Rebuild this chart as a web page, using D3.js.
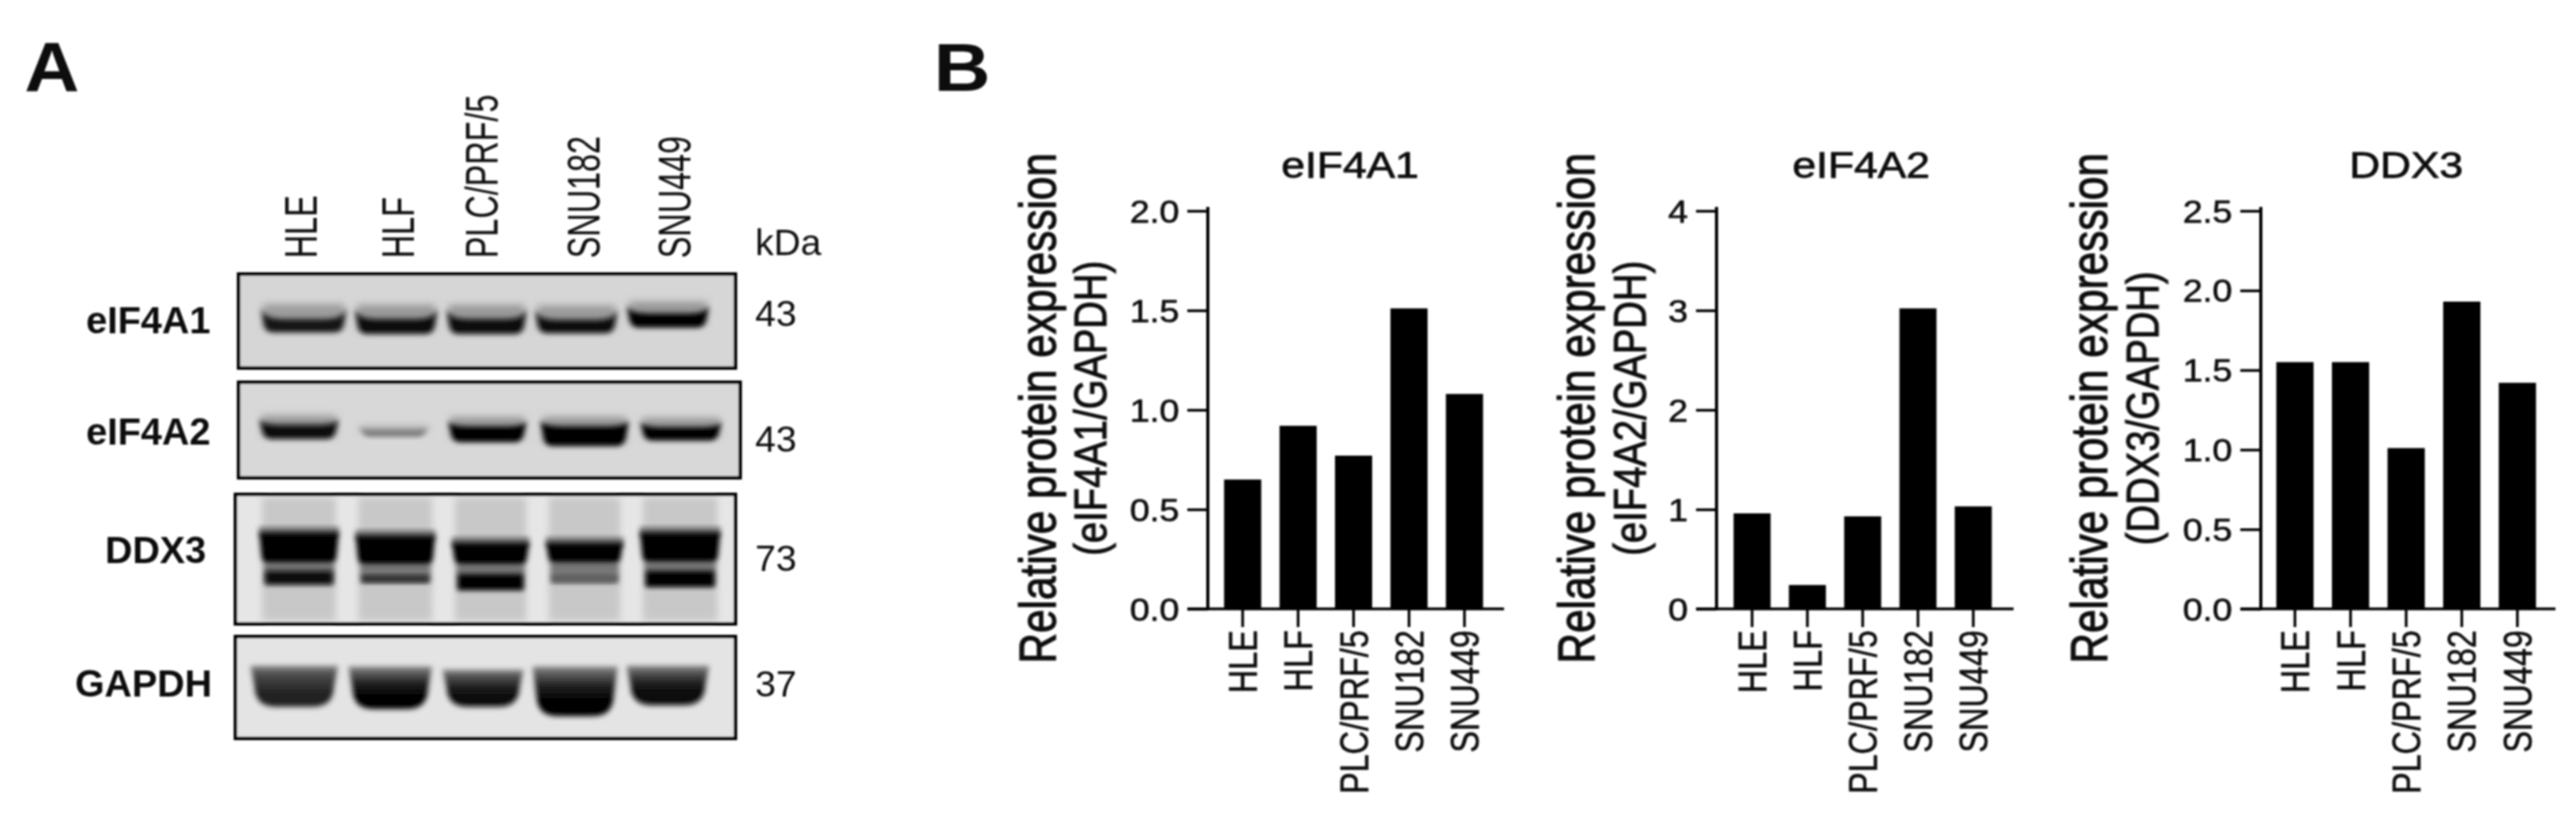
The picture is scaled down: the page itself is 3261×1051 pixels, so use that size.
<!DOCTYPE html>
<html><head><meta charset="utf-8">
<script src="https://d3js.org/d3.v7.min.js"></script>
<style>html,body{margin:0;padding:0;background:#fff}svg{display:block}text{font-family:"Liberation Sans",Arial,sans-serif;fill:#0c0c0c}</style>
</head><body><svg id="c" width="3261" height="1051"></svg>
<script>
// ---------- data ----------
const cellLines = ["HLE","HLF","PLC/PRF/5","SNU182","SNU449"];
const eIF4A1Values = [0.65,0.92,0.77,1.51,1.08];
const eIF4A2Values = [0.96,0.24,0.93,3.02,1.03];
const DDX3Values   = [1.55,1.55,1.01,1.93,1.42];
const eIF4A1Ticks = [0,0.5,1,1.5,2];
const eIF4A2Ticks = [0,1,2,3,4];
const DDX3Ticks   = [0,0.5,1,1.5,2,2.5];
const blotNames = ["eIF4A1","eIF4A2","DDX3","GAPDH"];
const blotKDa   = ["43","43","73","37"];
// band darkness per lane (0 = background, 1 = black)
const eIF4A1Bands = [0.88,0.95,0.95,0.93,0.97];
const eIF4A2Bands = [0.95,0.42,0.97,1,0.97];
const DDX3UpperBands = [1,1,1,1,1];
const DDX3LowerBands = [0.95,0.78,1,0.55,1];
const GAPDHBands = [0.85,1,0.95,1,0.97];

// ---------- layout ----------
const svg = d3.select("#c");
const defs = svg.append("defs");
defs.append("filter").attr("id","soft").attr("x","-5%").attr("y","-5%").attr("width","110%").attr("height","110%")
  .append("feGaussianBlur").attr("stdDeviation",0.9);
defs.append("filter").attr("id","band").attr("x","-10%").attr("y","-30%").attr("width","120%").attr("height","160%")
  .append("feGaussianBlur").attr("stdDeviation",3);
defs.append("filter").attr("id","haze").attr("x","-10%").attr("y","-60%").attr("width","120%").attr("height","220%")
  .append("feGaussianBlur").attr("stdDeviation",5);
defs.append("filter").attr("id","streak").attr("x","-30%").attr("y","-5%").attr("width","160%").attr("height","110%")
  .append("feGaussianBlur").attr("stdDeviation",4);
const root = svg.append("g").attr("filter","url(#soft)");
const grey = d3.scaleLinear().domain([0,1]).range(["#cfcfcf","#000000"]);

function txt(g,s,x,y,size,opt={}){
  const sx=opt.sx||1, rot=opt.rot?" rotate(-90)":"";
  return g.append("text").text(s).attr("font-size",size)
    .attr("transform",`translate(${x},${y}) scale(${sx},1)${rot}`)
    .attr("text-anchor",opt.anchor||"start")
    .attr("font-weight",opt.bold?"bold":"normal")
    .attr("stroke",opt.stroke?"#0c0c0c":"none").attr("stroke-width",opt.stroke||0);
}

txt(root,"A",31,116,89,{bold:true,sx:1.08});
txt(root,"B",1182,115,85,{bold:true,sx:1.17});

// ---------- panel A ----------
const A = root.append("g");
const topLabelBase = [401,524,630,759,874];
cellLines.forEach((c,i)=>txt(A,c,topLabelBase[i],327,41,{rot:true,sx:1.38}));
txt(A,"kDa",956,323,47,{});

const lanes = {
  eIF4A1:[[330,439],[449,554],[565,667],[677,782],[793,898]],
  eIF4A2:[[328,429],[453,544],[567,667],[684,796],[810,914]],
  DDX3:[[328,429],[450,551],[572,670],[691,789],[810,912]],
  GAPDH:[[317,428],[441,547],[560,663],[674,782],[793,898]]
};
const gels = [
 {name:"eIF4A1",x0:300,x1:933,y0:345,y1:468,bg:"#d6d6d6",lab:[109,422],kda:413},
 {name:"eIF4A2",x0:300,x1:939,y0:482,y1:607,bg:"#d8d8d8",lab:[109,563],kda:572},
 {name:"DDX3",x0:296,x1:933,y0:624,y1:792,bg:"#e6e6e6",lab:[133,713],kda:723},
 {name:"GAPDH",x0:296,x1:933,y0:804,y1:937,bg:"#e4e4e4",lab:[95,882],kda:882}
];
function crescent(g,x0,x1,top,sag,bottom,fill,rr,inset){
  const p=d3.path(), w=x1-x0, r=rr||Math.min(14,w*0.12), n=inset||0;
  p.moveTo(x0,top);
  p.bezierCurveTo(x0+w*0.05,top+sag*0.9,x0+w*0.15,top+sag,x0+w*0.3,top+sag);
  p.lineTo(x1-w*0.3,top+sag);
  p.bezierCurveTo(x1-w*0.15,top+sag,x1-w*0.05,top+sag*0.9,x1,top);
  p.lineTo(x1-n,bottom-r);
  p.quadraticCurveTo(x1-n-1,bottom,x1-n-r,bottom);
  p.lineTo(x0+n+r,bottom);
  p.quadraticCurveTo(x0+n+1,bottom,x0+n,bottom-r);
  p.closePath();
  g.append("path").attr("d",p.toString()).attr("fill",fill).attr("filter","url(#band)");
}
function vGrad(id,stops){
  const lg=defs.append("linearGradient").attr("id",id).attr("x1",0).attr("x2",0).attr("y1",0).attr("y2",1);
  stops.forEach(s=>lg.append("stop").attr("offset",s[0]).attr("stop-color",s[1]));
  return `url(#${id})`;
}
const bandSpecs = {
 eIF4A1:{top:[390,391,391,392,387],sag:[14,13,13,13,10],bot:[421,423,423,422,415]},
 eIF4A2:{top:[531,543,533,533,534],sag:[7,1,7,7,7],bot:[556,553,560,565,558]},
 GAPDH:{top:[843,844,848,844,843],sag:[0,0,0,0,0],bot:[895,898,895,907,893]}
};
gels.forEach((gel,gi)=>{
  const g=A.append("g");
  g.append("rect").attr("x",gel.x0).attr("y",gel.y0).attr("width",gel.x1-gel.x0).attr("height",gel.y1-gel.y0).attr("fill",gel.bg);
  const L=lanes[gel.name];
  if(gel.name!=="DDX3"){
    const vals = gel.name==="eIF4A1"?eIF4A1Bands:gel.name==="eIF4A2"?eIF4A2Bands:GAPDHBands;
    const sp=bandSpecs[gel.name];
    L.forEach((l,i)=>{
      const t=sp.top[i],b=sp.bot[i],v=vals[i];
      if(gel.name==="GAPDH"){
        const f=vGrad(`gp${i}`,[[0,grey(0.35)],[0.18,grey(0.6)],[0.4,grey(v*0.85)],[0.65,grey(v*0.97)],[1,grey(v)]]);
        crescent(g,l[0],l[1],t,0,b,f,26,5);
      } else {
        g.append("rect").attr("x",l[0]+3).attr("width",l[1]-l[0]-6).attr("y",t-5).attr("height",b-t)
          .attr("fill",grey(v*0.28)).attr("filter","url(#haze)");
        crescent(g,l[0],l[1],t,sp.sag[i],b,grey(v),12,4);
      }
    });
  } else {
    L.forEach((l,i)=>{
      g.append("rect").attr("x",l[0]+4).attr("width",l[1]-l[0]-8).attr("y",gel.y0+6).attr("height",gel.y1-gel.y0-12)
        .attr("fill","#c8c8c8").attr("filter","url(#streak)");
    });
    const uTop=[674,678,687,687,674], uBot=[713,715,715,713,712];
    const lTop=[723,728,727,728,723], lBot=[740,738,747,738,743];
    L.forEach((l,i)=>{
      g.append("rect").attr("x",l[0]).attr("width",l[1]-l[0]).attr("y",uTop[i]-7).attr("height",12).attr("fill","#7a7a7a").attr("filter","url(#band)");
      g.append("rect").attr("x",l[0]+6).attr("width",l[1]-l[0]-12).attr("y",uBot[i]).attr("height",lBot[i]-uBot[i]).attr("fill","#777").attr("filter","url(#band)");
      crescent(g,l[0],l[1],uTop[i],0,uBot[i],grey(DDX3UpperBands[i]),8,3);
      g.append("rect").attr("x",l[0]+8).attr("width",l[1]-l[0]-16).attr("y",lTop[i]).attr("height",lBot[i]-lTop[i])
        .attr("fill",grey(DDX3LowerBands[i])).attr("filter","url(#band)");
    });
  }
  g.append("rect").attr("x",gel.x0+2).attr("y",gel.y0+2).attr("width",gel.x1-gel.x0-4).attr("height",gel.y1-gel.y0-4)
    .attr("fill","none").attr("stroke","#000").attr("stroke-width",4.4);
  txt(A,blotNames[gi],gel.lab[0],gel.lab[1],48,{bold:true});
  txt(A,blotKDa[gi],956,gel.kda,47,{});
});

// ---------- panel B ----------
const charts = [
 {title:"eIF4A1",titleX:1709,values:eIF4A1Values,ticks:eIF4A1Ticks,max:2,fmt:d3.format(".1f"),
  axisX:1529,xRange:[1538,1889],xEnd:1904,line2:"(eIF4A1/GAPDH)",titleBase:[1336,1400]},
 {title:"eIF4A2",titleX:2356,values:eIF4A2Values,ticks:eIF4A2Ticks,max:4,fmt:d3.format("d"),
  axisX:2173,xRange:[2183,2533],xEnd:2549,line2:"(eIF4A2/GAPDH)",titleBase:[2018,2083]},
 {title:"DDX3",titleX:3046,values:DDX3Values,ticks:DDX3Ticks,max:2.5,fmt:d3.format(".1f"),
  axisX:2862,xRange:[2870,3222],xEnd:3235,line2:"(DDX3/GAPDH)",titleBase:[2667,2732]}
];
const Y0=771, YT=267, SX=1.13;
charts.forEach(c=>{
  const g=root.append("g");
  const y=d3.scaleLinear().domain([0,c.max]).range([Y0,YT]);
  const x=d3.scaleBand().domain(cellLines).range(c.xRange).paddingInner(0.33).paddingOuter(0.165);
  g.selectAll("rect.bar").data(c.values).join("rect").attr("class","bar")
    .attr("x",(d,i)=>x(cellLines[i])).attr("width",x.bandwidth())
    .attr("y",d=>y(d)).attr("height",d=>Y0-y(d)).attr("fill","#000");
  const ya=g.append("g").attr("transform",`translate(${c.axisX},0)`)
    .call(d3.axisLeft(y).tickValues(c.ticks).tickFormat(c.fmt).tickSize(26).tickSizeOuter(0).tickPadding(10));
  ya.select(".domain").attr("d",`M0,${Y0+1.5}V${YT-5}`).attr("stroke","#000").attr("stroke-width",4);
  ya.selectAll(".tick line").attr("stroke","#000").attr("stroke-width",3.4);
  ya.selectAll(".tick text").attr("x",0).attr("dy",null).attr("y",14).attr("font-size",40).attr("text-anchor","end")
    .attr("transform",`translate(-36,0) scale(${SX},1)`).attr("stroke","#0c0c0c").attr("stroke-width",0.7).style("font-family",'"Liberation Sans"');
  const xa=g.append("g").attr("transform",`translate(0,${Y0})`)
    .call(d3.axisBottom(x).tickSize(23).tickSizeOuter(0).tickPadding(4));
  xa.select(".domain").attr("d",`M${c.axisX-26},0H${c.xEnd}`).attr("stroke","#000").attr("stroke-width",3.4);
  xa.selectAll(".tick line").attr("stroke","#000").attr("stroke-width",3.4);
  xa.selectAll(".tick text").attr("x",0).attr("y",0).attr("dy",null).attr("font-size",41).attr("text-anchor","end")
    .attr("transform",`translate(18,27) scale(1.22,1) rotate(-90)`).attr("stroke","#0c0c0c").attr("stroke-width",0.5).style("font-family",'"Liberation Sans"');
  txt(g,c.title,c.titleX,225,47,{anchor:"middle",sx:1.15,stroke:0.9});
  txt(g,"Relative protein expression",c.titleBase[0],517,53.6,{anchor:"middle",sx:1.2,rot:true,stroke:1.1});
  txt(g,c.line2,c.titleBase[1],517,48.4,{anchor:"middle",sx:1.2,rot:true,stroke:1});
});
</script></body></html>
